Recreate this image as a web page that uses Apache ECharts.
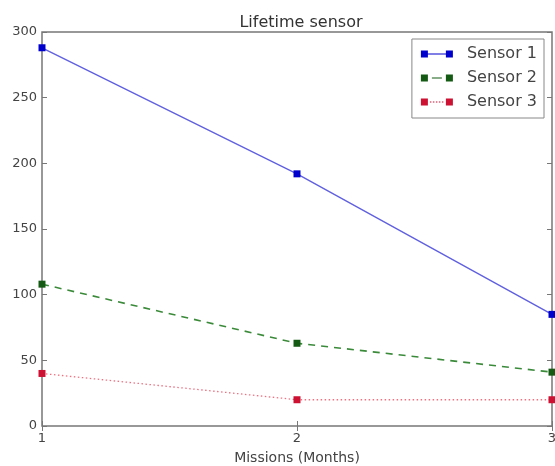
<!DOCTYPE html>
<html><head><meta charset="utf-8">
<script src="https://cdn.jsdelivr.net/npm/echarts@6/dist/echarts.min.js"></script>
<style>html,body{margin:0;padding:0;background:#fff}#c{width:555px;height:466px}</style>
</head><body><div id="c"></div>
<script>
const missions = [1, 2, 3];
const sensor1 = [288, 192, 85];
const sensor2 = [108, 63, 41];
const sensor3 = [40, 20, 20];
const seriesNames = ['Sensor 1', 'Sensor 2', 'Sensor 3'];
const yTicks = [0, 50, 100, 150, 200, 250, 300];

const font = 'DejaVu Sans';
const pair = a => missions.map((m, i) => [m, a[i]]);
const icons = [
  'path://M0,0h7v7h-7z M25,0h7v7h-7z M7,3h18v1h-18z',
  'path://M0,0h7v7h-7z M25,0h7v7h-7z M11,3h10v1h-10z',
  'path://M0,0h7v7h-7z M25,0h7v7h-7z M9,3.1h1.5v0.8h-1.5z M12,3.1h1.5v0.8h-1.5z M15,3.1h1.5v0.8h-1.5z M18,3.1h1.5v0.8h-1.5z M21,3.1h1.5v0.8h-1.5z'
];
const chart = echarts.init(document.getElementById('c'), null, {renderer: 'canvas'});
const axisCol = '#777';
chart.setOption({
  animation: false,
  title: {text: 'Lifetime sensor', left: 296, top: 10, textAlign: 'center',
    textStyle: {fontFamily: font, fontSize: 16, fontWeight: 'normal', color: '#333'}},
  grid: {left: 42, right: 3, top: 32, bottom: 40, show: true, borderColor: axisCol, borderWidth: 1.5,
    containLabel: false, outerBoundsMode: 'none'},
  legend: {
    right: 11, top: 39, orient: 'vertical', itemGap: 8, itemWidth: 32, itemHeight: 7,
    borderColor: '#888', borderWidth: 1, padding: [7, 7, 8, 9],
    textStyle: {fontFamily: font, fontSize: 16, color: '#444', padding: [0, 0, 0, 9]},
    data: seriesNames.map((n, i) => ({name: n, icon: icons[i]}))
  },
  xAxis: [{
    type: 'value', min: 1, max: 3, interval: 1,
    name: 'Missions (Months)', nameLocation: 'middle', nameGap: 25,
    nameTextStyle: {fontFamily: font, fontSize: 14, color: '#444'},
    axisLine: {show: false}, splitLine: {show: false},
    axisTick: {inside: true, length: 5, lineStyle: {color: axisCol}},
    axisLabel: {fontFamily: font, fontSize: 13, color: '#444', margin: 6, showMaxLabel: true}
  }, {
    type: 'value', position: 'top', min: 1, max: 3, interval: 1,
    axisLine: {show: false}, splitLine: {show: false}, axisLabel: {show: false},
    axisTick: {inside: true, length: 5, lineStyle: {color: axisCol}}
  }],
  yAxis: [{
    type: 'value', min: 0, max: 300, interval: 50,
    axisLine: {show: false}, splitLine: {show: false},
    axisTick: {inside: true, length: 5, lineStyle: {color: axisCol}},
    axisLabel: {fontFamily: font, fontSize: 13, color: '#444', margin: 5,
      formatter: v => yTicks.includes(v) ? String(v) : ''}
  }, {
    type: 'value', position: 'right', min: 0, max: 300, interval: 50,
    axisLine: {show: false}, splitLine: {show: false}, axisLabel: {show: false},
    axisTick: {inside: true, length: 5, lineStyle: {color: axisCol}}
  }],
  series: [
    {name: seriesNames[0], type: 'line', data: pair(sensor1), symbol: 'rect', symbolSize: 7,
      color: '#0000cc', lineStyle: {width: 1.4, color: '#6060e0'}, itemStyle: {color: '#0000cc'}},
    {name: seriesNames[1], type: 'line', data: pair(sensor2), symbol: 'rect', symbolSize: 7,
      color: '#1a6e1a', lineStyle: {width: 1.6, type: [7, 6], color: '#3a8a3a'}, itemStyle: {color: '#145a14'}},
    {name: seriesNames[2], type: 'line', data: pair(sensor3), symbol: 'rect', symbolSize: 7,
      color: '#cc1133', lineStyle: {width: 1.3, type: [1.5, 2.5], color: '#f07080'}, itemStyle: {color: '#cc1133'}}
  ]
});
</script></body></html>
